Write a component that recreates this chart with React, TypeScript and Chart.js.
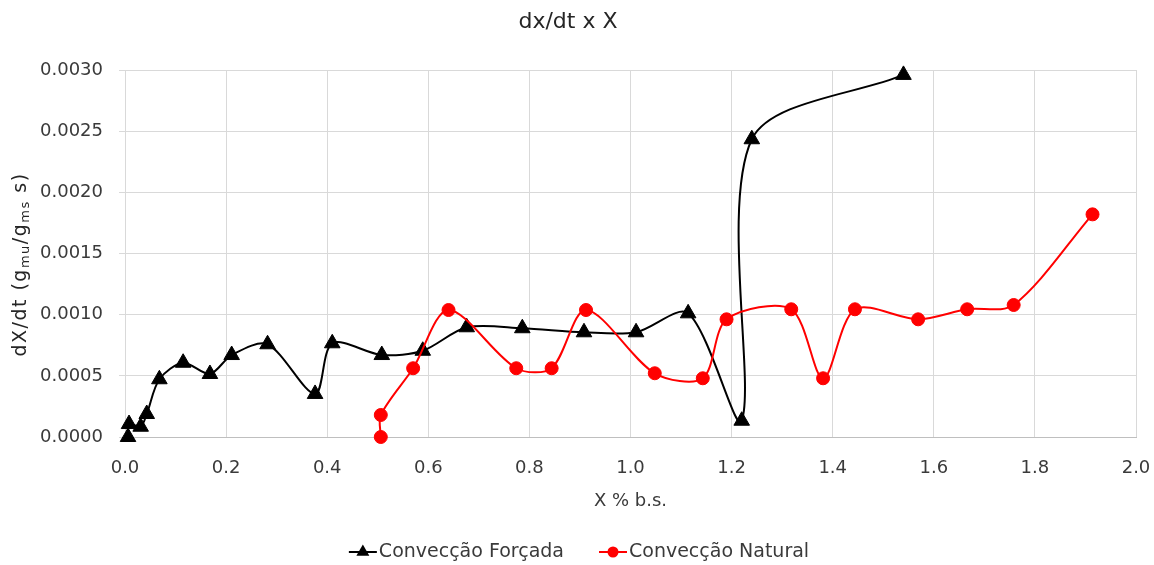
import React, { useEffect, useRef } from "react";
import { Chart, registerables } from "chart.js";

Chart.register(...registerables);

const chartTitle = "dx/dt x X";
const xTitle = "X % b.s.";
const seriesNames = ["Convecção Forçada", "Convecção Natural"];

const forcedX = [0.006, 0.008, 0.031, 0.043, 0.068, 0.115, 0.168, 0.211, 0.282, 0.376, 0.41, 0.508, 0.589, 0.676, 0.786, 0.908, 1.011, 1.114, 1.22, 1.24, 1.54];
const forcedY = [0.0, 0.000106, 0.000084, 0.000188, 0.000472, 0.000607, 0.000515, 0.00067, 0.000758, 0.000352, 0.000766, 0.00067, 0.000705, 0.000897, 0.000889, 0.000856, 0.000856, 0.001011, 0.000133, 0.002434, 0.00296];

const naturalX = [0.506, 0.506, 0.57, 0.64, 0.774, 0.844, 0.912, 1.048, 1.143, 1.19, 1.318, 1.381, 1.444, 1.569, 1.666, 1.758, 1.914];
const naturalY = [0.0, 0.00018, 0.000562, 0.001038, 0.000562, 0.000562, 0.001038, 0.000521, 0.00048, 0.000962, 0.001044, 0.00048, 0.001044, 0.000962, 0.001044, 0.001079, 0.00182];

const xTicks = [0, 0.2, 0.4, 0.6, 0.8, 1.0, 1.2, 1.4, 1.6, 1.8, 2.0];
const yTicks = [0, 0.0005, 0.001, 0.0015, 0.002, 0.0025, 0.003];

const FONT = "'DejaVu Sans', sans-serif";
const TEXT = "#3a3a3a";
const BLACK = "#000000";
const RED = "#ff0000";

export default function App() {
  const ref = useRef<HTMLCanvasElement>(null);

  useEffect(() => {
    document.body.style.margin = "0";
    const canvas = ref.current;
    if (!canvas) return;

    const yTitlePlugin = {
      id: "yTitleSub",
      afterDraw(chart: any) {
        const c = chart.ctx as CanvasRenderingContext2D;
        const area = chart.chartArea;
        const parts: [string, boolean][] = [
          ["dX/dt (g", false],
          ["mu", true],
          ["/g", false],
          ["ms", true],
          [" s)", false],
        ];
        const big = `19px ${FONT}`;
        const small = `13px ${FONT}`;
        c.save();
        (c as any).letterSpacing = "1.5px";
        let total = 0;
        for (const [t, sub] of parts) {
          c.font = sub ? small : big;
          total += c.measureText(t).width;
        }
        c.translate(21, (area.top + area.bottom) / 2 + 11);
        c.rotate(-Math.PI / 2);
        c.fillStyle = "#262626";
        c.textBaseline = "middle";
        c.textAlign = "left";
        let x = -total / 2;
        for (const [t, sub] of parts) {
          c.font = sub ? small : big;
          c.fillText(t, x, sub ? 5 : 0);
          x += c.measureText(t).width;
        }
        c.restore();
      },
    };

    const legendPlugin = {
      id: "lineLegend",
      afterDraw(chart: any) {
        const c = chart.ctx as CanvasRenderingContext2D;
        const items = [
          { name: seriesNames[0], color: BLACK, style: "triangle" },
          { name: seriesNames[1], color: RED, style: "circle" },
        ];
        c.save();
        c.font = `19px ${FONT}`;
        const lineW = 28;
        const gapText = 2;
        const gapItems = 35;
        const widths = items.map((it) => c.measureText(it.name).width);
        const total = widths.reduce((a, w) => a + lineW + gapText + w, 0) + gapItems;
        let x = 579 - total / 2;
        const y = 552;
        items.forEach((it, i) => {
          c.strokeStyle = it.color;
          c.fillStyle = it.color;
          c.lineWidth = 2;
          c.beginPath();
          c.moveTo(x, y);
          c.lineTo(x + lineW, y);
          c.stroke();
          const mx = x + lineW / 2;
          c.beginPath();
          if (it.style === "triangle") {
            const r = 7.5;
            c.moveTo(mx, y - r);
            c.lineTo(mx + r * 0.866, y + r * 0.5);
            c.lineTo(mx - r * 0.866, y + r * 0.5);
            c.closePath();
          } else {
            c.arc(mx, y, 5.5, 0, Math.PI * 2);
          }
          c.fill();
          c.fillStyle = TEXT;
          c.textBaseline = "middle";
          c.textAlign = "left";
          c.fillText(it.name, x + lineW + gapText, y);
          x += lineW + gapText + widths[i] + gapItems;
        });
        c.restore();
      },
    };

    const tickFont = { family: FONT, size: 18 };

    const chart = new Chart(canvas, {
      type: "scatter",
      data: {
        datasets: [
          {
            label: seriesNames[0],
            data: forcedX.map((x, i) => ({ x, y: forcedY[i] })),
            showLine: true,
            borderColor: BLACK,
            backgroundColor: BLACK,
            borderWidth: 2,
            pointStyle: "triangle",
            pointRadius: 9,
            pointBorderWidth: 1,
            pointBorderColor: BLACK,
            pointBackgroundColor: BLACK,
            tension: 0.3,
            clip: false,
            order: 1,
          },
          {
            label: seriesNames[1],
            data: naturalX.map((x, i) => ({ x, y: naturalY[i] })),
            showLine: true,
            borderColor: RED,
            backgroundColor: RED,
            borderWidth: 2,
            pointStyle: "circle",
            pointRadius: 6.5,
            pointBorderWidth: 1,
            pointBorderColor: RED,
            pointBackgroundColor: RED,
            tension: 0.3,
            clip: false,
            order: 0,
          },
        ],
      } as any,
      options: {
        responsive: false,
        animation: false,
        events: [],
        layout: { padding: { left: 0, right: 18, top: 0, bottom: 48 } },
        plugins: {
          legend: { display: false },
          tooltip: { enabled: false },
          title: {
            display: true,
            text: chartTitle,
            color: "#262626",
            font: { family: FONT, size: 22, weight: "normal" },
            padding: { top: 9, bottom: 34.6 },
          },
        },
        scales: {
          x: {
            type: "linear",
            min: 0,
            max: 2,
            afterBuildTicks: (s: any) => {
              s.ticks = xTicks.map((v) => ({ value: v }));
            },
            afterFit: (s: any) => {
              s.height = 80;
            },
            ticks: {
              callback: (v: any) => Number(v).toFixed(1),
              color: TEXT,
              font: tickFont,
              padding: 2,
              maxRotation: 0,
            },
            grid: { color: "#d9d9d9", lineWidth: 1, tickLength: 19, tickColor: "rgba(0,0,0,0)" },
            border: { color: "#bfbfbf", width: 1 },
            title: {
              display: true,
              text: xTitle,
              color: TEXT,
              font: tickFont,
              padding: { top: 0, bottom: 5 },
            },
          },
          y: {
            type: "linear",
            min: 0,
            max: 0.003,
            afterBuildTicks: (s: any) => {
              s.ticks = yTicks.map((v) => ({ value: v }));
            },
            afterFit: (s: any) => {
              s.width = 125;
            },
            ticks: {
              callback: (v: any) => Number(v).toFixed(4),
              color: TEXT,
              font: tickFont,
              padding: 16,
            },
            grid: { color: "#d9d9d9", lineWidth: 1, tickLength: 6 },
            border: { color: "#d9d9d9", width: 1 },
          },
        },
      } as any,
      plugins: [yTitlePlugin, legendPlugin],
    });

    return () => {
      chart.destroy();
    };
  }, []);

  return (
    <div style={{ width: 1154, height: 565 }}>
      <canvas ref={ref} width={1154} height={565} style={{ display: "block" }} />
    </div>
  );
}
